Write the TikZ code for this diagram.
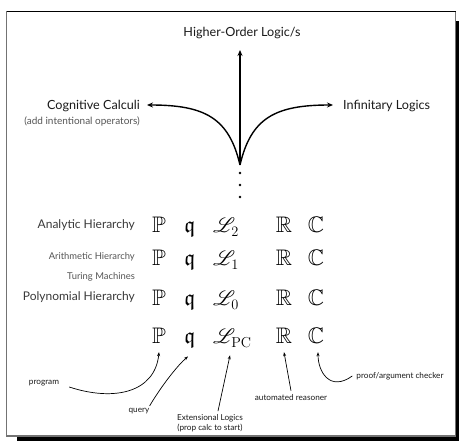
\documentclass[tikz,border=0pt]{standalone}
\usepackage[no-math]{fontspec}
\setmainfont{Lato}
\usepackage{amssymb}
\usepackage{mathrsfs}
\usetikzlibrary{arrows.meta,calc}
\definecolor{txt}{HTML}{1A1A1A}
\definecolor{rowtxt}{HTML}{3A3A3A}
\definecolor{rowsmall}{HTML}{555555}
\tikzset{
  big/.style={font=\fontsize{12.6}{14}\selectfont, text=txt, inner sep=0pt},
  rowbig/.style={font=\fontsize{12}{14}\selectfont, text=rowtxt, inner sep=0pt, anchor=mid east},
  rowsm/.style={font=\fontsize{9.4}{11}\selectfont, text=rowsmall, inner sep=0pt, anchor=mid east},
  sym/.style={font=\fontsize{22.5}{26}\selectfont, inner sep=0pt, anchor=base},
  symL/.style={font=\fontsize{22.5}{26}\selectfont, inner sep=0pt, anchor=base west},
  small/.style={font=\fontsize{8.2}{10}\selectfont, text=txt, inner sep=0pt},
  toparrow/.style={line width=1.4pt, -{Stealth[length=6pt,width=5pt]}},
  botarrow/.style={line width=0.7pt, -{Stealth[length=4pt,width=3pt]}},
}
\begin{document}
\begin{tikzpicture}[x=1pt,y=-1pt]
\useasboundingbox (0,0) rectangle (459,441);
% frame with shadow
\fill[black] (17,21) rectangle (459,441);
\filldraw[fill=white, draw=black!55, line width=1.2pt] (6.5,11.5) rectangle (455.5,436);
\draw[black, line width=1pt] (6.5,11.5) -- (455.5,11.5);

% top part
\node[big] (hol) at (242,33) {Higher-Order Logic/s};
\node[big, anchor=mid east] (cog) at (140,107) {Cognitive Calculi};
\node[font=\fontsize{10}{12}\selectfont, text=rowsmall, inner sep=0pt, anchor=mid east] (cogsub) at (140,122) {(add intentional operators)};
\node[big, anchor=mid west] (inf) at (343,107) {Infinitary Logics};
\coordinate (src) at (240,165);
\coordinate (hl) at (240,50);
\coordinate (cl) at (147,105);
\coordinate (il) at (333,105);
\draw[toparrow] (src) -- (hl);
\draw[toparrow] (src) .. controls (229,118) and (205,105) .. (cl);
\draw[toparrow] (src) .. controls (251,118) and (275,105) .. (il);
\node[inner sep=0pt] (d1) at (240,173) {};
\node[inner sep=0pt] (d2) at (240,185) {};
\node[inner sep=0pt] (d3) at (240,197) {};
\foreach \d in {d1,d2,d3} \fill (\d) circle (1.3);

% rows
\node[rowbig] (ah) at (135,226) {Analytic Hierarchy};
\node[rowsm] (arh) at (135,257) {Arithmetic Hierarchy};
\node[rowsm] (tm) at (135,277) {Turing Machines};
\node[rowbig] (ph) at (135,298) {Polynomial Hierarchy};

\foreach \r/\b/\s in {1/233/2, 2/266/1, 3/306/0} {
  \node[sym] (P\r) at (159,\b) {$\mathbb{P}$};
  \node[sym] (q\r) at (190,\b) {$\mathfrak{q}$};
  \node[symL] (L\r) at (213,\b) {$\mathscr{L}_{\s}$};
  \node[sym] (R\r) at (284,\b) {$\mathbb{R}$};
  \node[sym] (C\r) at (316,\b) {$\mathbb{C}$};
}
\node[sym] (P4) at (159,344) {$\mathbb{P}$};
\node[sym] (q4) at (190,344) {$\mathfrak{q}$};
\node[symL] (L4) at (213,344) {$\mathscr{L}_{\mathrm{PC}}$};
\node[sym] (R4) at (284,344) {$\mathbb{R}$};
\node[sym] (C4) at (316,344) {$\mathbb{C}$};

% bottom labels
\node[small] (prog) at (44,383) {program};
\node[small] (query) at (139,411) {query};
\node[small, align=center] (ext) at (210,423) {Extensional Logics\\(prop calc to start)};
\node[small] (auto) at (291,398) {automated reasoner};
\node[small] (proof) at (400,376) {proof/argument checker};

\draw[botarrow] ($(prog.east)+(10,4)$) .. controls (115,402) and (155,392) .. ($(P4.south)+(0,8)$);
\draw[botarrow] ($(query.north east)+(0,-2)$) .. controls (162,385) and (178,365) .. ($(q4.south)+(-2,8)$);
\draw[botarrow] ($(ext.north)+(8,-3)$) -- ($(L4.south west)+(17,8)$);
\draw[botarrow] ($(auto.north)+(0,-4)$) -- ($(R4.south)+(0,8)$);
\draw[botarrow] ($(proof.west)+(-4,0)$) .. controls (330,392) and (318,372) .. ($(C4.south)+(2,8)$);
\end{tikzpicture}
\end{document}
